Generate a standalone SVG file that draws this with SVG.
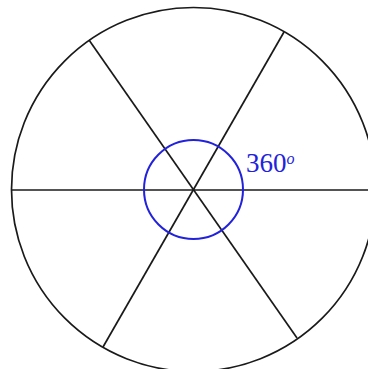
<svg xmlns="http://www.w3.org/2000/svg" width="368" height="369" viewBox="0 0 368 369">
<style>
.k{fill:none;stroke:#1a1a1a;stroke-width:1.7}
.b{fill:none;stroke:#2222dd;stroke-width:2}
.t{fill:#2222dd;font-family:"Liberation Serif",serif}
</style>
<rect width="368" height="369" fill="#fff"/>
<g id="outer"><circle class="k" cx="193.5" cy="189.5" r="182"/></g>
<g id="connectors">
<line class="k" x1="12" y1="190" x2="368" y2="190"/>
<line class="k" x1="89" y1="40" x2="297" y2="338"/>
<line class="k" x1="284" y1="32" x2="103" y2="347"/>
</g>
<g id="angle">
<circle class="b" cx="193.5" cy="189.5" r="49.5"/>
<text class="t" x="246" y="172" font-size="27">360<tspan font-size="16" font-style="italic" dy="-8">o</tspan></text>
</g>
</svg>
